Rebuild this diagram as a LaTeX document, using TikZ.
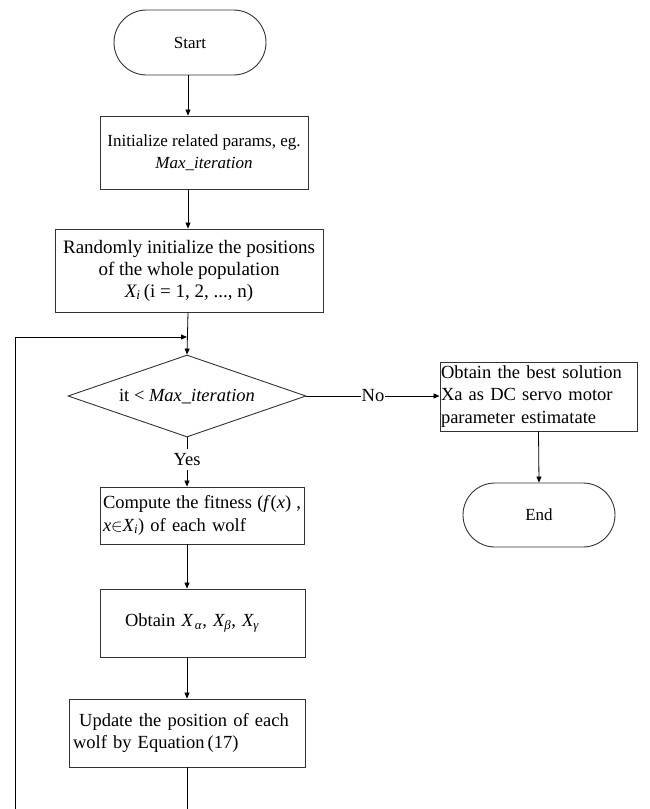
\documentclass[tikz,border=0pt]{standalone}
\usepackage{fontspec}
\setmainfont{Liberation Serif}
\usetikzlibrary{shapes.geometric,shapes.misc,arrows.meta}
\begin{document}
\begin{tikzpicture}[x=1pt,y=-1pt,
  txt/.style={font=\fontsize{18.5}{22.5}\selectfont},
  small/.style={font=\fontsize{17}{22.5}\selectfont},
  base/.style={draw=black!80, line width=0.9pt, inner sep=0pt, txt},
  pill/.style={base, rounded rectangle},
  box/.style={base, rectangle},
  dec/.style={base, diamond},
  conn/.style={line width=0.8pt, -{Triangle[length=6pt,width=5pt]}},
  line/.style={line width=0.8pt}]
\useasboundingbox (0,0) rectangle (649,809);
\node[pill, small, minimum width=152pt, minimum height=65pt] (start) at (190,42.5) {Start};
\node[box, small, minimum width=208pt, minimum height=73pt, align=center] (b1) at (204,152.5)
  {Initialize related params, eg.\\ \textit{Max\_iteration}};
\node[box, font=\fontsize{19}{22}\selectfont, minimum width=268pt, minimum height=83pt, align=center] (b2) at (189,270.5)
  {Randomly initialize the positions\\ of the whole population\\ \textit{X\textsubscript{i}}\,(i = 1, 2, ..., n)};
\node[dec, minimum width=238pt, minimum height=82pt, aspect=2.9] (d) at (187,396) {};
\node[txt] at (187,397) {it < \textit{Max\_iteration}};
\node[box, minimum width=197pt, minimum height=69pt, align=left, text width=195pt] (b3) at (538.5,396.5)
  {Obtain the best solution\\ Xa as DC servo motor\\ parameter estimatate};
\node[pill, small, minimum width=152pt, minimum height=64pt] (end) at (539,515) {End};
\node[box, minimum width=204pt, minimum height=57pt, align=left, text width=198pt] (b4) at (202,515.5)
  {Compute\hfill the\hfill fitness\hfill (\textit{f}(\textit{x})\hfill ,\\ \textit{x}$\in$\textit{X\textsubscript{i}}) of each wolf};
\node[box, minimum width=205pt, minimum height=68pt, align=left, text width=155pt] (b5) at (202.5,623)
  {Obtain \textit{X\textsubscript{\,α}}, \textit{X\textsubscript{β}}, \textit{X\textsubscript{γ}}};
\node[box, minimum width=236pt, minimum height=68pt, align=left, text width=228pt] (b6) at (187,733)
  {\ Update the position of each\\ wolf by Equation\,(17)};
\coordinate (col) at (188,0);
\coordinate (loopL) at (15,337);
\coordinate (bot) at (15,815);
\draw[conn] (start.south -| col) -- (b1.north -| col);
\draw[conn] (b1.south -| col) -- (b2.north -| col);
\draw[conn] (b2.south -| col) -- (d.north);
\draw[conn] (d.east) -- node[fill=white, inner sep=1pt, txt] {No} (b3.west |- d.east);
\draw[conn] (b3.south) -- (end.north);
\draw[line] (d.south) -- (187,449);
\node[txt] (yes) at (187,460) {Yes};
\draw[conn] (yes.south -| d.south) -- (b4.north -| d.south);
\draw[conn] (b4.south -| d.south) -- (b5.north -| d.south);
\draw[conn] (b5.south -| d.south) -- (b6.north -| d.south);
\draw[line] (b6.south -| d.south) -- (bot -| d.south) -- (bot) -- (loopL);
\draw[conn] (loopL) -- (loopL -| d.north);
\end{tikzpicture}
\end{document}
